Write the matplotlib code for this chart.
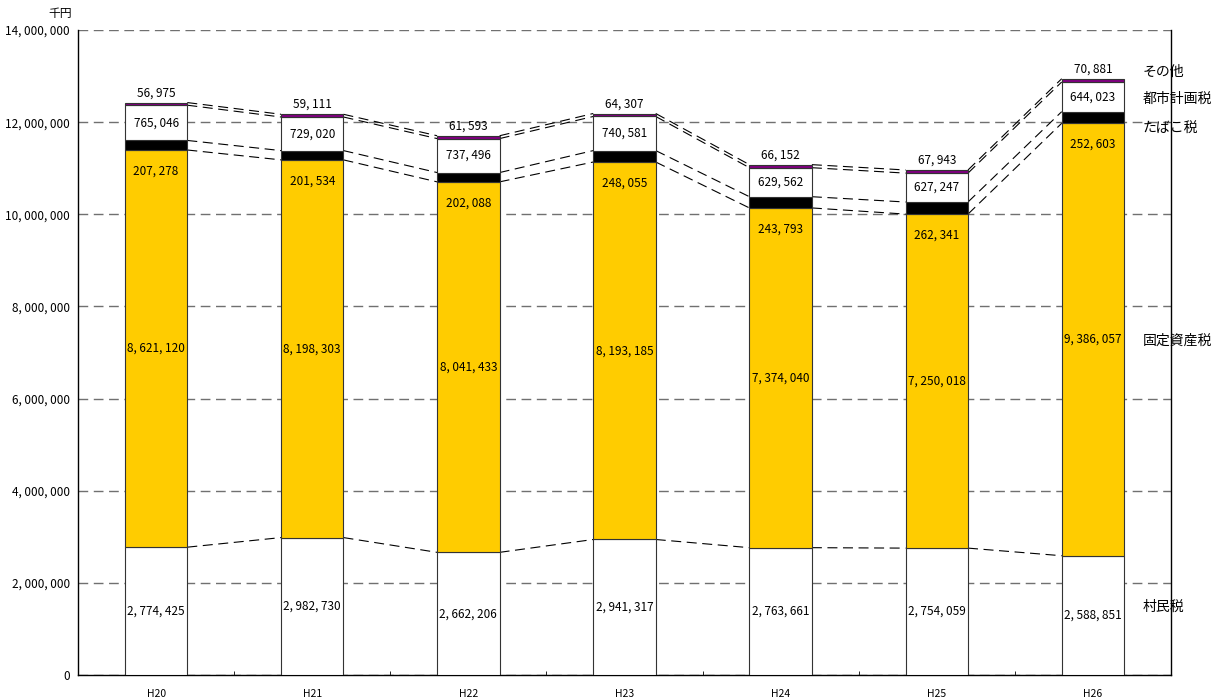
import numpy as np
import matplotlib.pyplot as plt
from matplotlib.ticker import FuncFormatter

plt.rcParams['font.family'] = ['Noto Sans CJK JP', 'DejaVu Sans']

# 税目別の収入額（千円）
years = ['H20', 'H21', 'H22', 'H23', 'H24', 'H25', 'H26']
sonminzei = [2774425, 2982730, 2662206, 2941317, 2763661, 2754059, 2588851]
kotei = [8621120, 8198303, 8041433, 8193185, 7374040, 7250018, 9386057]
tabako = [207278, 201534, 202088, 248055, 243793, 262341, 252603]
toshi = [765046, 729020, 737496, 740581, 629562, 627247, 644023]
sonota = [56975, 59111, 61593, 64307, 66152, 67943, 70881]

series = [sonminzei, kotei, tabako, toshi, sonota]
names = ['村民税', '固定資産税', 'たばこ税', '都市計画税', 'その他']
colors = ['white', '#FFCC00', 'black', 'white', '#800080']


def fmt(v):
    return f'{int(v):,}'.replace(',', ', ')


fig = plt.figure(figsize=(12.26, 6.99), dpi=100)
ax = fig.add_axes([78 / 1226, 24 / 699, 1093 / 1226, 645 / 699])

x = np.arange(len(years))
w = 0.40
bottom = np.zeros(len(years))
tops = []
for vals, c in zip(series, colors):
    vals = np.array(vals, dtype=float)
    ax.bar(x, vals, w, bottom=bottom, color=c, edgecolor='#333333',
           linewidth=0.8, zorder=3)
    bottom = bottom + vals
    tops.append(bottom.copy())

# 区分線（各棒の境界を次の棒へ破線で結ぶ）
for t in tops:
    for i in range(len(years) - 1):
        ax.plot([x[i] + w / 2, x[i + 1] - w / 2], [t[i], t[i + 1]],
                color='black', lw=0.8, dashes=(9, 5), zorder=2)

# 数値ラベル
fs = 8.5
for i in range(len(years)):
    ax.text(x[i], sonminzei[i] / 2, fmt(sonminzei[i]), ha='center', va='center',
            fontsize=fs, zorder=4)
    ax.text(x[i], sonminzei[i] + kotei[i] / 2, fmt(kotei[i]), ha='center', va='center',
            fontsize=fs, zorder=4)
    top_kt = sonminzei[i] + kotei[i]
    ax.annotate(fmt(tabako[i]), (x[i], top_kt), xytext=(0, -15), textcoords='offset points',
                ha='center', va='center', fontsize=fs, zorder=4)
    base_ts = top_kt + tabako[i]
    ax.text(x[i], base_ts + toshi[i] / 2, fmt(toshi[i]), ha='center', va='center',
            fontsize=fs, zorder=4)
    top_all = base_ts + toshi[i] + sonota[i]
    ax.annotate(fmt(sonota[i]), (x[i], top_all), xytext=(0, 7), textcoords='offset points',
                ha='center', va='center', fontsize=fs, zorder=4)

# 右側の凡例テキスト
legend_y = [1.476e6, 7.25e6, 11.85e6, 12.5e6, 13.09e6]
for name, ly in zip(names, legend_y):
    ax.text(6.32, ly, name, ha='left', va='center', fontsize=10, zorder=5, clip_on=False)

ax.set_xlim(-0.5, 6.5)
ax.set_ylim(0, 14000000)
ax.set_yticks(np.arange(0, 14000001, 2000000))
ax.yaxis.set_major_formatter(FuncFormatter(lambda v, p: fmt(v)))
ax.set_xticks(x)
ax.set_xticklabels(years, fontsize=7.5)
ax.set_xticks(np.arange(-0.5, 7, 1), minor=True)
ax.tick_params(axis='x', which='major', length=0, pad=10)
ax.tick_params(axis='x', which='minor', direction='in', length=3)
ax.tick_params(axis='y', length=0, labelsize=8.5, pad=6)

ax.grid(axis='y', color='#707070', lw=1, dashes=(7, 4), zorder=0)
ax.spines['top'].set_visible(False)
for s in ['left', 'right', 'bottom']:
    ax.spines[s].set_linewidth(1)

fig.text(48 / 1226, 1 - 14 / 699, '千円', fontsize=8.5, ha='left', va='center')

fig.savefig('out.png', dpi=100)
